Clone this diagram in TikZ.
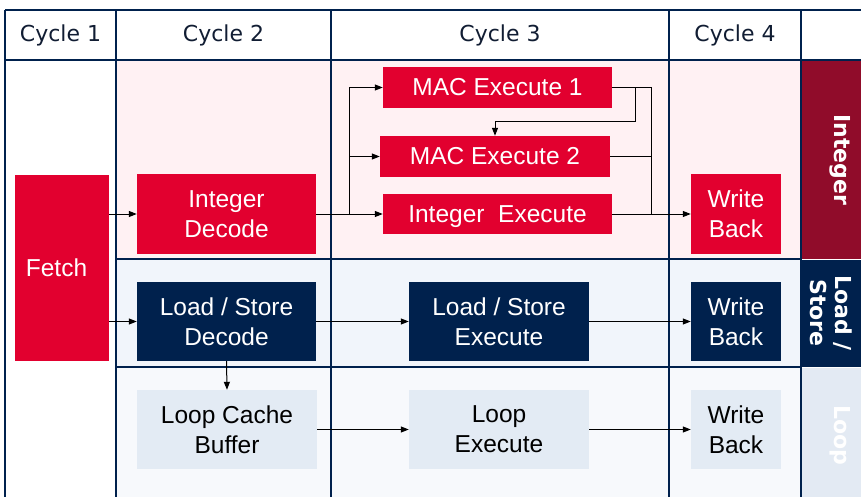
\documentclass[tikz,border=0pt]{standalone}
\usepackage{fontspec}
\setmainfont{Liberation Sans}
\newfontfamily\hdrfont{DejaVu Sans}
\usetikzlibrary{arrows.meta}

\definecolor{ifxred}{HTML}{E2002F}
\definecolor{ifxdarkred}{HTML}{900C2A}
\definecolor{ifxnavy}{HTML}{00214D}
\definecolor{loopfill}{HTML}{E3EBF4}
\definecolor{pinkbg}{HTML}{FFF1F3}
\definecolor{bluebg}{HTML}{F1F5FB}
\definecolor{loopbg}{HTML}{F7F9FC}
\definecolor{looplabel}{HTML}{E3EAF3}
\definecolor{hdrtext}{HTML}{111D33}

\newcommand\stagefont{\fontsize{24.5pt}{30pt}\selectfont}
\newcommand\cyclefont{\hdrfont\fontsize{22pt}{26pt}\selectfont}
\newcommand\unitfont{\hdrfont\bfseries\fontsize{22pt}{25pt}\selectfont}

\begin{document}
\begin{tikzpicture}[x=1pt,y=-1pt,
  stage/.style={inner sep=0pt, align=center, font=\stagefont, text=white},
  redbox/.style={stage, fill=ifxred},
  navybox/.style={stage, fill=ifxnavy},
  loopbox/.style={stage, fill=loopfill, text=black},
  grid/.style={draw=ifxnavy, line width=2.6pt},
  rowline/.style={draw=ifxnavy, line width=1.4pt},
  arr/.style={draw=black, line width=1pt, -{Triangle[length=8pt,width=6pt]}},
  wire/.style={draw=black, line width=1pt},
  cycle/.style={font=\cyclefont, text=hdrtext},
  unit/.style={font=\unitfont, text=white, align=center, rotate=-90}]

\useasboundingbox (0,0) rectangle (861,497);
\fill[white] (0,0) rectangle (861,497);

% row backgrounds
\fill[pinkbg] (116,60) rectangle (801,259);
\fill[bluebg] (116,259) rectangle (801,367);
\fill[loopbg] (116,367) rectangle (801,497);

% unit label column
\fill[ifxdarkred] (801,60) rectangle (861,259);
\fill[ifxnavy] (801,259) rectangle (861,367);
\fill[looplabel] (801,367) rectangle (861,497);
\draw[white, line width=0.8pt] (801,259) -- (861,259) (801,367) -- (861,367);

% row separators
\draw[rowline] (116,259) -- (801,259);
\draw[rowline] (116,367) -- (801,367);

% header and column lines
\draw[grid] (5,10) -- (861,10);
\draw[grid] (5,60) -- (861,60);
\foreach \cx in {5,116,331,669,801}
  \draw[grid] (\cx,10) -- (\cx,497);

% cycle headers
\node[cycle] (c1) at (60.5,35) {Cycle 1};
\node[cycle] (c2) at (223.5,35) {Cycle 2};
\node[cycle] (c3) at (500,35) {Cycle 3};
\node[cycle] (c4) at (735,35) {Cycle 4};

% unit labels
\node[unit] (uint) at (840,160) {Integer};
\node[unit] (uls) at (831,313) {Load /\\Store};
\node[unit] (uloop) at (840,435) {Loop};

% pipeline stages
\node[redbox, minimum width=94pt, minimum height=186pt] (fetch) at (62,268) {Fetch\hspace*{11pt}};

\node[redbox, minimum width=179pt, minimum height=79pt] (idec) at (226.5,214) {Integer\\Decode};
\node[navybox, minimum width=179pt, minimum height=79pt] (lsdec) at (226.5,321.5) {Load / Store\\Decode};
\node[loopbox, minimum width=180pt, minimum height=79pt] (lcb) at (227,429.5) {Loop Cache\\Buffer};

\node[redbox, minimum width=229pt, minimum height=41pt] (mac1) at (497.5,87.5) {MAC Execute 1};
\node[redbox, minimum width=230pt, minimum height=41pt] (mac2) at (495,156.5) {MAC Execute 2};
\node[redbox, minimum width=229pt, minimum height=40pt, text depth=0pt] (iex) at (497.5,214) {Integer~~Execute};
\node[navybox, minimum width=180pt, minimum height=79pt] (lsex) at (499,321.5) {Load / Store\\Execute};
\node[loopbox, minimum width=180pt, minimum height=79pt] (lex) at (499,429.5) {Loop\\Execute};

\node[redbox, minimum width=90pt, minimum height=79pt] (wb1) at (736,214) {Write\\Back};
\node[navybox, minimum width=90pt, minimum height=79pt] (wb2) at (736,321.5) {Write\\Back};
\node[loopbox, minimum width=90pt, minimum height=79pt] (wb3) at (736,429.5) {Write\\Back};

% branch and join points
\coordinate (split) at (349,214);
\coordinate (join) at (651,214);
\coordinate (fb) at (635,122);

% connectors
\draw[arr] (fetch.east |- idec.west) -- (idec.west);
\draw[arr] (fetch.east |- lsdec.west) -- (lsdec.west);

\draw[wire] (idec.east) -- (split);
\draw[arr] (split) |- (mac1.west);
\draw[arr] (split |- mac2.west) -- (mac2.west);
\draw[arr] (split) -- (iex.west);

\draw[wire] (mac1.east) -| (join);
\draw[wire] (mac2.east) -- (mac2.east -| join);
\draw[wire] (iex.east) -- (join);
\draw[arr] (join) -- (wb1.west);
\draw[arr] (mac1.east -| fb) -- (fb) -| (mac2.north);

\draw[arr] (lsdec.east) -- (lsex.west);
\draw[arr] (lsex.east) -- (wb2.west);
\draw[arr] (lsdec.south) -- (lcb.north);
\draw[arr] (lcb.east) -- (lex.west);
\draw[arr] (lex.east) -- (wb3.west);

\end{tikzpicture}
\end{document}
